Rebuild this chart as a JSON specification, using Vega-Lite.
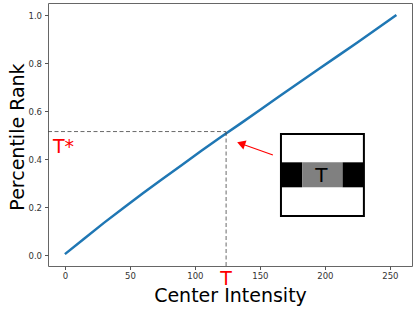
{
  "$schema": "https://vega.github.io/schema/vega-lite/v6.json",
  "width": 364,
  "height": 263,
  "padding": {"left": 48, "top": 3, "right": 5, "bottom": 43},
  "autosize": {"type": "none"},
  "background": "white",
  "config": {
    "view": {"stroke": "#666", "strokeWidth": 1},
    "axis": {
      "grid": false,
      "domain": false,
      "tickColor": "#555",
      "tickSize": 3.5,
      "labelFont": "DejaVu Sans",
      "labelFontSize": 8.5,
      "labelColor": "#333",
      "titleFont": "DejaVu Sans",
      "titleFontSize": 19,
      "titleFontWeight": "normal",
      "titleColor": "#000"
    }
  },
  "datasets": {
    "curve": [
      {"intensity": 0, "rank": 0.005},
      {"intensity": 15, "rank": 0.07},
      {"intensity": 30, "rank": 0.135},
      {"intensity": 45, "rank": 0.197},
      {"intensity": 60, "rank": 0.258},
      {"intensity": 75, "rank": 0.318},
      {"intensity": 90, "rank": 0.376},
      {"intensity": 105, "rank": 0.435},
      {"intensity": 120, "rank": 0.492},
      {"intensity": 135, "rank": 0.548},
      {"intensity": 150, "rank": 0.605},
      {"intensity": 165, "rank": 0.662},
      {"intensity": 180, "rank": 0.718},
      {"intensity": 195, "rank": 0.774},
      {"intensity": 210, "rank": 0.83},
      {"intensity": 225, "rank": 0.886},
      {"intensity": 240, "rank": 0.943},
      {"intensity": 255, "rank": 1.0}
    ]
  },
  "layer": [
    {
      "data": {"name": "curve"},
      "mark": {"type": "line", "color": "#1f77b4", "strokeWidth": 2.5},
      "encoding": {
        "x": {"field": "intensity", "type": "quantitative",
              "scale": {"domain": [-13, 267], "nice": false, "zero": false},
              "axis": {"values": [0, 50, 100, 150, 200, 250], "title": "Center Intensity",
                       "labelPadding": 2, "titleBaseline": "alphabetic", "titleX": 182, "titleY": 35.5}},
        "y": {"field": "rank", "type": "quantitative",
              "scale": {"domain": [-0.0445, 1.05], "nice": false, "zero": false},
              "axis": {"values": [0, 0.2, 0.4, 0.6, 0.8, 1.0], "format": ".1f", "title": "Percentile Rank",
                       "labelPadding": 3, "titleBaseline": "alphabetic", "titleX": -24.7, "titleY": 133.5, "titleAlign": "center"}}
      }
    },
    {
      "data": {"values": [{"x1": -13, "x2": 124, "y": 0.515}]},
      "mark": {"type": "rule", "color": "#444", "strokeWidth": 0.8, "strokeDash": [4, 2.5]},
      "encoding": {
        "x": {"field": "x1", "type": "quantitative"},
        "x2": {"field": "x2"},
        "y": {"field": "y", "type": "quantitative"}
      }
    },
    {
      "data": {"values": [{"x": 124, "y1": -0.0445, "y2": 0.515}]},
      "mark": {"type": "rule", "color": "#444", "strokeWidth": 0.8, "strokeDash": [4, 2.5]},
      "encoding": {
        "x": {"field": "x", "type": "quantitative"},
        "y": {"field": "y1", "type": "quantitative"},
        "y2": {"field": "y2"}
      }
    },
    {
      "data": {"values": [{"x1": 160, "y1": 0.417, "x2": 134.6, "y2": 0.466}]},
      "mark": {"type": "rule", "color": "#ff0000", "strokeWidth": 1.1},
      "encoding": {
        "x": {"field": "x1", "type": "quantitative"},
        "y": {"field": "y1", "type": "quantitative"},
        "x2": {"field": "x2"},
        "y2": {"field": "y2"}
      }
    },
    {
      "data": {"values": [{"x": 135.5, "y": 0.465}]},
      "mark": {"type": "point", "shape": "triangle-up", "filled": true, "color": "#ff0000", "opacity": 1, "size": 90, "angle": 289},
      "encoding": {
        "x": {"field": "x", "type": "quantitative"},
        "y": {"field": "y", "type": "quantitative"}
      }
    },
    {
      "data": {"values": [{"x1": 166.2, "x2": 230, "y1": 0.1635, "y2": 0.505}]},
      "mark": {"type": "rect", "color": "white"},
      "encoding": {
        "x": {"field": "x1", "type": "quantitative"},
        "x2": {"field": "x2"},
        "y": {"field": "y1", "type": "quantitative"},
        "y2": {"field": "y2"}
      }
    },
    {
      "data": {"values": [
        {"x1": 166.2, "x2": 182.5, "y1": 0.283, "y2": 0.387, "part": "edge"},
        {"x1": 182.5, "x2": 213.6, "y1": 0.283, "y2": 0.387, "part": "center"},
        {"x1": 213.6, "x2": 230, "y1": 0.283, "y2": 0.387, "part": "edge"}
      ]},
      "mark": {"type": "rect", "opacity": 1},
      "encoding": {
        "x": {"field": "x1", "type": "quantitative"},
        "x2": {"field": "x2"},
        "y": {"field": "y1", "type": "quantitative"},
        "y2": {"field": "y2"},
        "color": {"field": "part", "type": "nominal",
                  "scale": {"domain": ["edge", "center"], "range": ["#000000", "#808080"]},
                  "legend": null}
      }
    },
    {
      "data": {"values": [{"x1": 166.2, "x2": 230, "y1": 0.1635, "y2": 0.505}]},
      "mark": {"type": "rect", "fill": null, "fillOpacity": 0, "stroke": "black", "strokeWidth": 2},
      "encoding": {
        "x": {"field": "x1", "type": "quantitative"},
        "x2": {"field": "x2"},
        "y": {"field": "y1", "type": "quantitative"},
        "y2": {"field": "y2"}
      }
    },
    {
      "data": {"values": [
        {"x": -9.2, "y": 0.426, "label": "T*", "kind": "tstar"}
      ]},
      "mark": {"type": "text", "font": "DejaVu Sans", "fontSize": 19, "color": "#ff0000", "align": "left", "baseline": "alphabetic"},
      "encoding": {
        "x": {"field": "x", "type": "quantitative"},
        "y": {"field": "y", "type": "quantitative"},
        "text": {"field": "label"}
      }
    },
    {
      "data": {"values": [
        {"x": 124, "y": -0.1236, "label": "T"}
      ]},
      "mark": {"type": "text", "font": "DejaVu Sans", "fontSize": 19, "color": "#ff0000", "align": "center", "baseline": "alphabetic"},
      "encoding": {
        "x": {"field": "x", "type": "quantitative"},
        "y": {"field": "y", "type": "quantitative"},
        "text": {"field": "label"}
      }
    },
    {
      "data": {"values": [
        {"x": 197.3, "y": 0.307, "label": "T"}
      ]},
      "mark": {"type": "text", "font": "DejaVu Sans", "fontSize": 20, "color": "#000000", "align": "center", "baseline": "alphabetic"},
      "encoding": {
        "x": {"field": "x", "type": "quantitative"},
        "y": {"field": "y", "type": "quantitative"},
        "text": {"field": "label"}
      }
    }
  ]
}
